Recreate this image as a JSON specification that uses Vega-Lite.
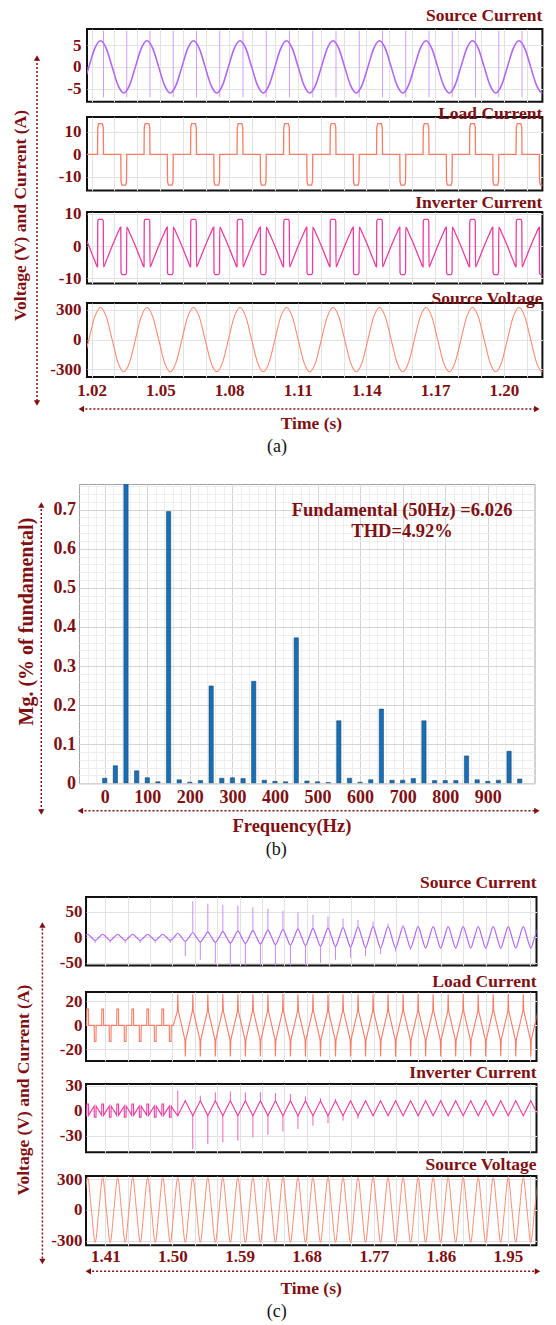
{
"$schema": "https://vega.github.io/schema/vega-lite/v6.json",
"background": "white",
"padding": {"left": 0, "top": 6, "right": 0, "bottom": 0},
"spacing": 0,
"config": {
  "view": {"stroke": "#111111", "strokeWidth": 2},
  "axis": {"labelFont": "Liberation Serif", "labelFontWeight": "bold", "labelColor": "#7f0f12", "labelFontSize": 17, "domain": false, "ticks": false, "gridColor": "#e2e2e2", "gridWidth": 1, "labelFlush": false, "labelOverlap": false},
  "title": {"font": "Liberation Serif", "fontWeight": "bold", "color": "#7f0f12", "fontSize": 17.5, "anchor": "end", "baseline": "bottom"}
},
"datasets": {
"a": [
{"t":1.01629,"v":-230,"i":-4.2},{"t":1.01883,"v":0,"i":0},{"t":1.02136,"v":230,"i":4.2},
{"t":1.0239,"v":325,"i":6},{"t":1.02644,"v":230,"i":4.2},{"t":1.02898,"v":0,"i":0},{"t":1.03151,"v":-230,"i":-4.2},{"t":1.03405,"v":-325,"i":-6},{"t":1.03659,"v":-230,"i":-4.2},{"t":1.03913,"v":0,"i":0},{"t":1.04166,"v":230,"i":4.2},
{"t":1.0442,"v":325,"i":6},{"t":1.04674,"v":230,"i":4.2},{"t":1.04928,"v":0,"i":0},{"t":1.05181,"v":-230,"i":-4.2},{"t":1.05435,"v":-325,"i":-6},{"t":1.05689,"v":-230,"i":-4.2},{"t":1.05943,"v":0,"i":0},{"t":1.06196,"v":230,"i":4.2},
{"t":1.0645,"v":325,"i":6},{"t":1.06704,"v":230,"i":4.2},{"t":1.06958,"v":0,"i":0},{"t":1.07211,"v":-230,"i":-4.2},{"t":1.07465,"v":-325,"i":-6},{"t":1.07719,"v":-230,"i":-4.2},{"t":1.07973,"v":0,"i":0},{"t":1.08226,"v":230,"i":4.2},
{"t":1.0848,"v":325,"i":6},{"t":1.08734,"v":230,"i":4.2},{"t":1.08988,"v":0,"i":0},{"t":1.09241,"v":-230,"i":-4.2},{"t":1.09495,"v":-325,"i":-6},{"t":1.09749,"v":-230,"i":-4.2},{"t":1.10003,"v":0,"i":0},{"t":1.10256,"v":230,"i":4.2},
{"t":1.1051,"v":325,"i":6},{"t":1.10764,"v":230,"i":4.2},{"t":1.11018,"v":0,"i":0},{"t":1.11271,"v":-230,"i":-4.2},{"t":1.11525,"v":-325,"i":-6},{"t":1.11779,"v":-230,"i":-4.2},{"t":1.12033,"v":0,"i":0},{"t":1.12286,"v":230,"i":4.2},
{"t":1.1254,"v":325,"i":6},{"t":1.12794,"v":230,"i":4.2},{"t":1.13048,"v":0,"i":0},{"t":1.13301,"v":-230,"i":-4.2},{"t":1.13555,"v":-325,"i":-6},{"t":1.13809,"v":-230,"i":-4.2},{"t":1.14063,"v":0,"i":0},{"t":1.14316,"v":230,"i":4.2},
{"t":1.1457,"v":325,"i":6},{"t":1.14824,"v":230,"i":4.2},{"t":1.15078,"v":0,"i":0},{"t":1.15331,"v":-230,"i":-4.2},{"t":1.15585,"v":-325,"i":-6},{"t":1.15839,"v":-230,"i":-4.2},{"t":1.16093,"v":0,"i":0},{"t":1.16346,"v":230,"i":4.2},
{"t":1.166,"v":325,"i":6},{"t":1.16854,"v":230,"i":4.2},{"t":1.17108,"v":0,"i":0},{"t":1.17361,"v":-230,"i":-4.2},{"t":1.17615,"v":-325,"i":-6},{"t":1.17869,"v":-230,"i":-4.2},{"t":1.18123,"v":0,"i":0},{"t":1.18376,"v":230,"i":4.2},
{"t":1.1863,"v":325,"i":6},{"t":1.18884,"v":230,"i":4.2},{"t":1.19138,"v":0,"i":0},{"t":1.19391,"v":-230,"i":-4.2},{"t":1.19645,"v":-325,"i":-6},{"t":1.19899,"v":-230,"i":-4.2},{"t":1.20153,"v":0,"i":0},{"t":1.20406,"v":230,"i":4.2},
{"t":1.2066,"v":325,"i":6},{"t":1.20914,"v":230,"i":4.2},{"t":1.21168,"v":0,"i":0},{"t":1.21421,"v":-230,"i":-4.2},{"t":1.21675,"v":-325,"i":-6},{"t":1.21929,"v":-230,"i":-4.2}
],
"aS": [
{"t":1.0252,"i":-7,"i2":8.3},{"t":1.03535,"i":-7,"i2":8.3},{"t":1.0455,"i":-7,"i2":8.3},{"t":1.05565,"i":-7,"i2":8.3},{"t":1.0658,"i":-7,"i2":8.3},{"t":1.07595,"i":-7,"i2":8.3},{"t":1.0861,"i":-7,"i2":8.3},{"t":1.09625,"i":-7,"i2":8.3},{"t":1.1064,"i":-7,"i2":8.3},{"t":1.11655,"i":-7,"i2":8.3},{"t":1.1267,"i":-7,"i2":8.3},{"t":1.13685,"i":-7,"i2":8.3},{"t":1.147,"i":-7,"i2":8.3},{"t":1.15715,"i":-7,"i2":8.3},{"t":1.1673,"i":-7,"i2":8.3},{"t":1.17745,"i":-7,"i2":8.3},{"t":1.1876,"i":-7,"i2":8.3},{"t":1.19775,"i":-7,"i2":8.3},{"t":1.2079,"i":-7,"i2":8.3}
],
"aL": [
{"t":1.017,"l":0},
{"t":1.0226,"l":0},{"t":1.0227,"l":12},{"t":1.0231,"l":13.7},{"t":1.0247,"l":13.7},{"t":1.0251,"l":12},{"t":1.0252,"l":0},
{"t":1.03275,"l":0},{"t":1.03285,"l":-12},{"t":1.03325,"l":-13.7},{"t":1.03485,"l":-13.7},{"t":1.03525,"l":-12},{"t":1.03535,"l":0},
{"t":1.0429,"l":0},{"t":1.043,"l":12},{"t":1.0434,"l":13.7},{"t":1.045,"l":13.7},{"t":1.0454,"l":12},{"t":1.0455,"l":0},
{"t":1.05305,"l":0},{"t":1.05315,"l":-12},{"t":1.05355,"l":-13.7},{"t":1.05515,"l":-13.7},{"t":1.05555,"l":-12},{"t":1.05565,"l":0},
{"t":1.0632,"l":0},{"t":1.0633,"l":12},{"t":1.0637,"l":13.7},{"t":1.0653,"l":13.7},{"t":1.0657,"l":12},{"t":1.0658,"l":0},
{"t":1.07335,"l":0},{"t":1.07345,"l":-12},{"t":1.07385,"l":-13.7},{"t":1.07545,"l":-13.7},{"t":1.07585,"l":-12},{"t":1.07595,"l":0},
{"t":1.0835,"l":0},{"t":1.0836,"l":12},{"t":1.084,"l":13.7},{"t":1.0856,"l":13.7},{"t":1.086,"l":12},{"t":1.0861,"l":0},
{"t":1.09365,"l":0},{"t":1.09375,"l":-12},{"t":1.09415,"l":-13.7},{"t":1.09575,"l":-13.7},{"t":1.09615,"l":-12},{"t":1.09625,"l":0},
{"t":1.1038,"l":0},{"t":1.1039,"l":12},{"t":1.1043,"l":13.7},{"t":1.1059,"l":13.7},{"t":1.1063,"l":12},{"t":1.1064,"l":0},
{"t":1.11395,"l":0},{"t":1.11405,"l":-12},{"t":1.11445,"l":-13.7},{"t":1.11605,"l":-13.7},{"t":1.11645,"l":-12},{"t":1.11655,"l":0},
{"t":1.1241,"l":0},{"t":1.1242,"l":12},{"t":1.1246,"l":13.7},{"t":1.1262,"l":13.7},{"t":1.1266,"l":12},{"t":1.1267,"l":0},
{"t":1.13425,"l":0},{"t":1.13435,"l":-12},{"t":1.13475,"l":-13.7},{"t":1.13635,"l":-13.7},{"t":1.13675,"l":-12},{"t":1.13685,"l":0},
{"t":1.1444,"l":0},{"t":1.1445,"l":12},{"t":1.1449,"l":13.7},{"t":1.1465,"l":13.7},{"t":1.1469,"l":12},{"t":1.147,"l":0},
{"t":1.15455,"l":0},{"t":1.15465,"l":-12},{"t":1.15505,"l":-13.7},{"t":1.15665,"l":-13.7},{"t":1.15705,"l":-12},{"t":1.15715,"l":0},
{"t":1.1647,"l":0},{"t":1.1648,"l":12},{"t":1.1652,"l":13.7},{"t":1.1668,"l":13.7},{"t":1.1672,"l":12},{"t":1.1673,"l":0},
{"t":1.17485,"l":0},{"t":1.17495,"l":-12},{"t":1.17535,"l":-13.7},{"t":1.17695,"l":-13.7},{"t":1.17735,"l":-12},{"t":1.17745,"l":0},
{"t":1.185,"l":0},{"t":1.1851,"l":12},{"t":1.1855,"l":13.7},{"t":1.1871,"l":13.7},{"t":1.1875,"l":12},{"t":1.1876,"l":0},
{"t":1.19515,"l":0},{"t":1.19525,"l":-12},{"t":1.19565,"l":-13.7},{"t":1.19725,"l":-13.7},{"t":1.19765,"l":-12},{"t":1.19775,"l":0},
{"t":1.2053,"l":0},{"t":1.2054,"l":12},{"t":1.2058,"l":13.7},{"t":1.2074,"l":13.7},{"t":1.2078,"l":12},{"t":1.2079,"l":0},
{"t":1.21545,"l":0},{"t":1.21555,"l":-12},{"t":1.21595,"l":-13.7},{"t":1.21755,"l":-13.7},{"t":1.21795,"l":-12},{"t":1.21805,"l":0}
],
"aI": [
{"t":1.01629,"n":4.1},{"t":1.01883,"n":0},{"t":1.02136,"n":-4.5},
{"t":1.0226,"n":-6.4},{"t":1.0227,"n":7.6},{"t":1.0231,"n":8.2},{"t":1.0247,"n":8.2},{"t":1.0251,"n":7.6},{"t":1.0252,"n":-6.4},
{"t":1.02644,"n":-4.5},{"t":1.02898,"n":0},{"t":1.03151,"n":4.1},
{"t":1.03275,"n":5.8},{"t":1.03285,"n":-8.2},{"t":1.03325,"n":-8.8},{"t":1.03485,"n":-8.8},{"t":1.03525,"n":-8.2},{"t":1.03535,"n":5.8},
{"t":1.03659,"n":4.1},{"t":1.03913,"n":0},{"t":1.04166,"n":-4.5},
{"t":1.0429,"n":-6.4},{"t":1.043,"n":7.6},{"t":1.0434,"n":8.2},{"t":1.045,"n":8.2},{"t":1.0454,"n":7.6},{"t":1.0455,"n":-6.4},
{"t":1.04674,"n":-4.5},{"t":1.04928,"n":0},{"t":1.05181,"n":4.1},
{"t":1.05305,"n":5.8},{"t":1.05315,"n":-8.2},{"t":1.05355,"n":-8.8},{"t":1.05515,"n":-8.8},{"t":1.05555,"n":-8.2},{"t":1.05565,"n":5.8},
{"t":1.05689,"n":4.1},{"t":1.05943,"n":0},{"t":1.06196,"n":-4.5},
{"t":1.0632,"n":-6.4},{"t":1.0633,"n":7.6},{"t":1.0637,"n":8.2},{"t":1.0653,"n":8.2},{"t":1.0657,"n":7.6},{"t":1.0658,"n":-6.4},
{"t":1.06704,"n":-4.5},{"t":1.06958,"n":0},{"t":1.07211,"n":4.1},
{"t":1.07335,"n":5.8},{"t":1.07345,"n":-8.2},{"t":1.07385,"n":-8.8},{"t":1.07545,"n":-8.8},{"t":1.07585,"n":-8.2},{"t":1.07595,"n":5.8},
{"t":1.07719,"n":4.1},{"t":1.07973,"n":0},{"t":1.08226,"n":-4.5},
{"t":1.0835,"n":-6.4},{"t":1.0836,"n":7.6},{"t":1.084,"n":8.2},{"t":1.0856,"n":8.2},{"t":1.086,"n":7.6},{"t":1.0861,"n":-6.4},
{"t":1.08734,"n":-4.5},{"t":1.08988,"n":0},{"t":1.09241,"n":4.1},
{"t":1.09365,"n":5.8},{"t":1.09375,"n":-8.2},{"t":1.09415,"n":-8.8},{"t":1.09575,"n":-8.8},{"t":1.09615,"n":-8.2},{"t":1.09625,"n":5.8},
{"t":1.09749,"n":4.1},{"t":1.10003,"n":0},{"t":1.10256,"n":-4.5},
{"t":1.1038,"n":-6.4},{"t":1.1039,"n":7.6},{"t":1.1043,"n":8.2},{"t":1.1059,"n":8.2},{"t":1.1063,"n":7.6},{"t":1.1064,"n":-6.4},
{"t":1.10764,"n":-4.5},{"t":1.11018,"n":0},{"t":1.11271,"n":4.1},
{"t":1.11395,"n":5.8},{"t":1.11405,"n":-8.2},{"t":1.11445,"n":-8.8},{"t":1.11605,"n":-8.8},{"t":1.11645,"n":-8.2},{"t":1.11655,"n":5.8},
{"t":1.11779,"n":4.1},{"t":1.12033,"n":0},{"t":1.12286,"n":-4.5},
{"t":1.1241,"n":-6.4},{"t":1.1242,"n":7.6},{"t":1.1246,"n":8.2},{"t":1.1262,"n":8.2},{"t":1.1266,"n":7.6},{"t":1.1267,"n":-6.4},
{"t":1.12794,"n":-4.5},{"t":1.13048,"n":0},{"t":1.13301,"n":4.1},
{"t":1.13425,"n":5.8},{"t":1.13435,"n":-8.2},{"t":1.13475,"n":-8.8},{"t":1.13635,"n":-8.8},{"t":1.13675,"n":-8.2},{"t":1.13685,"n":5.8},
{"t":1.13809,"n":4.1},{"t":1.14063,"n":0},{"t":1.14316,"n":-4.5},
{"t":1.1444,"n":-6.4},{"t":1.1445,"n":7.6},{"t":1.1449,"n":8.2},{"t":1.1465,"n":8.2},{"t":1.1469,"n":7.6},{"t":1.147,"n":-6.4},
{"t":1.14824,"n":-4.5},{"t":1.15078,"n":0},{"t":1.15331,"n":4.1},
{"t":1.15455,"n":5.8},{"t":1.15465,"n":-8.2},{"t":1.15505,"n":-8.8},{"t":1.15665,"n":-8.8},{"t":1.15705,"n":-8.2},{"t":1.15715,"n":5.8},
{"t":1.15839,"n":4.1},{"t":1.16093,"n":0},{"t":1.16346,"n":-4.5},
{"t":1.1647,"n":-6.4},{"t":1.1648,"n":7.6},{"t":1.1652,"n":8.2},{"t":1.1668,"n":8.2},{"t":1.1672,"n":7.6},{"t":1.1673,"n":-6.4},
{"t":1.16854,"n":-4.5},{"t":1.17108,"n":0},{"t":1.17361,"n":4.1},
{"t":1.17485,"n":5.8},{"t":1.17495,"n":-8.2},{"t":1.17535,"n":-8.8},{"t":1.17695,"n":-8.8},{"t":1.17735,"n":-8.2},{"t":1.17745,"n":5.8},
{"t":1.17869,"n":4.1},{"t":1.18123,"n":0},{"t":1.18376,"n":-4.5},
{"t":1.185,"n":-6.4},{"t":1.1851,"n":7.6},{"t":1.1855,"n":8.2},{"t":1.1871,"n":8.2},{"t":1.1875,"n":7.6},{"t":1.1876,"n":-6.4},
{"t":1.18884,"n":-4.5},{"t":1.19138,"n":0},{"t":1.19391,"n":4.1},
{"t":1.19515,"n":5.8},{"t":1.19525,"n":-8.2},{"t":1.19565,"n":-8.8},{"t":1.19725,"n":-8.8},{"t":1.19765,"n":-8.2},{"t":1.19775,"n":5.8},
{"t":1.19899,"n":4.1},{"t":1.20153,"n":0},{"t":1.20406,"n":-4.5},
{"t":1.2053,"n":-6.4},{"t":1.2054,"n":7.6},{"t":1.2058,"n":8.2},{"t":1.2074,"n":8.2},{"t":1.2078,"n":7.6},{"t":1.2079,"n":-6.4},
{"t":1.20914,"n":-4.5},{"t":1.21168,"n":0},{"t":1.21421,"n":4.1},
{"t":1.21545,"n":5.8},{"t":1.21555,"n":-8.2},{"t":1.21595,"n":-8.8},{"t":1.21755,"n":-8.8},{"t":1.21795,"n":-8.2},{"t":1.21805,"n":5.8}
],
"b": [
{"f":0,"m":0.013},{"f":25,"m":0.045},{"f":50,"m":0.77},{"f":75,"m":0.032},{"f":100,"m":0.0145},{"f":125,"m":0.004},{"f":150,"m":0.695},{"f":175,"m":0.009},{"f":200,"m":0.003},{"f":225,"m":0.007},
{"f":250,"m":0.249},{"f":275,"m":0.013},{"f":300,"m":0.014},{"f":325,"m":0.012},{"f":350,"m":0.261},{"f":375,"m":0.008},{"f":400,"m":0.005},{"f":425,"m":0.004},{"f":450,"m":0.372},{"f":475,"m":0.006},
{"f":500,"m":0.004},{"f":525,"m":0.002},{"f":550,"m":0.16},{"f":575,"m":0.013},{"f":600,"m":0.003},{"f":625,"m":0.009},{"f":650,"m":0.19},{"f":675,"m":0.008},{"f":700,"m":0.008},{"f":725,"m":0.012},
{"f":750,"m":0.16},{"f":775,"m":0.007},{"f":800,"m":0.007},{"f":825,"m":0.007},{"f":850,"m":0.07},{"f":875,"m":0.009},{"f":900,"m":0.005},{"f":925,"m":0.008},{"f":950,"m":0.082},{"f":975,"m":0.011}
],
"c": [
{"t":1.38116,"v":0,"i":0},
{"t":1.3862,"v":315,"i":6},{"t":1.39124,"v":0,"i":0},{"t":1.39628,"v":-315,"i":-6},{"t":1.40131,"v":0,"i":0},
{"t":1.40635,"v":315,"i":6},{"t":1.41139,"v":0,"i":0},{"t":1.41643,"v":-315,"i":-6},{"t":1.42146,"v":0,"i":0},
{"t":1.4265,"v":315,"i":6},{"t":1.43154,"v":0,"i":0},{"t":1.43658,"v":-315,"i":-6},{"t":1.44161,"v":0,"i":0},
{"t":1.44665,"v":315,"i":6},{"t":1.45169,"v":0,"i":0},{"t":1.45673,"v":-315,"i":-6},{"t":1.46176,"v":0,"i":0},
{"t":1.4668,"v":315,"i":6},{"t":1.47184,"v":0,"i":0},{"t":1.47688,"v":-315,"i":-6},{"t":1.48191,"v":0,"i":0},
{"t":1.48695,"v":315,"i":6},{"t":1.49199,"v":0,"i":0},{"t":1.49703,"v":-315,"i":-6},{"t":1.50206,"v":0,"i":0},
{"t":1.5071,"v":315,"i":8},{"t":1.51214,"v":0,"i":0},{"t":1.51718,"v":-315,"i":-8},{"t":1.52221,"v":0,"i":0},
{"t":1.52725,"v":315,"i":9},{"t":1.53229,"v":0,"i":0},{"t":1.53733,"v":-315,"i":-9},{"t":1.54236,"v":0,"i":0},
{"t":1.5474,"v":315,"i":10},{"t":1.55244,"v":0,"i":0},{"t":1.55748,"v":-315,"i":-10},{"t":1.56251,"v":0,"i":0},
{"t":1.56755,"v":315,"i":11},{"t":1.57259,"v":0,"i":0},{"t":1.57763,"v":-315,"i":-11},{"t":1.58266,"v":0,"i":0},
{"t":1.5877,"v":315,"i":12},{"t":1.59274,"v":0,"i":0},{"t":1.59778,"v":-315,"i":-12},{"t":1.60281,"v":0,"i":0},
{"t":1.60785,"v":315,"i":13},{"t":1.61289,"v":0,"i":0},{"t":1.61793,"v":-315,"i":-13},{"t":1.62296,"v":0,"i":0},
{"t":1.628,"v":315,"i":14},{"t":1.63304,"v":0,"i":0},{"t":1.63808,"v":-315,"i":-14},{"t":1.64311,"v":0,"i":0},
{"t":1.64815,"v":315,"i":15},{"t":1.65319,"v":0,"i":0},{"t":1.65823,"v":-315,"i":-15},{"t":1.66326,"v":0,"i":0},
{"t":1.6683,"v":315,"i":16},{"t":1.67334,"v":0,"i":0},{"t":1.67838,"v":-315,"i":-16},{"t":1.68341,"v":0,"i":0},
{"t":1.68845,"v":315,"i":17},{"t":1.69349,"v":0,"i":0},{"t":1.69853,"v":-315,"i":-17},{"t":1.70356,"v":0,"i":0},
{"t":1.7086,"v":315,"i":18},{"t":1.71364,"v":0,"i":0},{"t":1.71868,"v":-315,"i":-18},{"t":1.72371,"v":0,"i":0},
{"t":1.72875,"v":315,"i":19},{"t":1.73379,"v":0,"i":0},{"t":1.73883,"v":-315,"i":-19},{"t":1.74386,"v":0,"i":0},
{"t":1.7489,"v":315,"i":20},{"t":1.75394,"v":0,"i":0},{"t":1.75898,"v":-315,"i":-20},{"t":1.76401,"v":0,"i":0},
{"t":1.76905,"v":315,"i":21},{"t":1.77409,"v":0,"i":0},{"t":1.77913,"v":-315,"i":-21},{"t":1.78416,"v":0,"i":0},
{"t":1.7892,"v":315,"i":21},{"t":1.79424,"v":0,"i":0},{"t":1.79928,"v":-315,"i":-21},{"t":1.80431,"v":0,"i":0},
{"t":1.80935,"v":315,"i":21},{"t":1.81439,"v":0,"i":0},{"t":1.81943,"v":-315,"i":-21},{"t":1.82446,"v":0,"i":0},
{"t":1.8295,"v":315,"i":21},{"t":1.83454,"v":0,"i":0},{"t":1.83958,"v":-315,"i":-21},{"t":1.84461,"v":0,"i":0},
{"t":1.84965,"v":315,"i":21},{"t":1.85469,"v":0,"i":0},{"t":1.85973,"v":-315,"i":-21},{"t":1.86476,"v":0,"i":0},
{"t":1.8698,"v":315,"i":21},{"t":1.87484,"v":0,"i":0},{"t":1.87988,"v":-315,"i":-21},{"t":1.88491,"v":0,"i":0},
{"t":1.88995,"v":315,"i":21},{"t":1.89499,"v":0,"i":0},{"t":1.90003,"v":-315,"i":-21},{"t":1.90506,"v":0,"i":0},
{"t":1.9101,"v":315,"i":21},{"t":1.91514,"v":0,"i":0},{"t":1.92018,"v":-315,"i":-21},{"t":1.92521,"v":0,"i":0},
{"t":1.93025,"v":315,"i":21},{"t":1.93529,"v":0,"i":0},{"t":1.94033,"v":-315,"i":-21},{"t":1.94536,"v":0,"i":0},
{"t":1.9504,"v":315,"i":21},{"t":1.95544,"v":0,"i":0},{"t":1.96048,"v":-315,"i":-21},{"t":1.96551,"v":0,"i":0},
{"t":1.97055,"v":315,"i":21},{"t":1.97559,"v":0,"i":0},{"t":1.98063,"v":-315,"i":-21},{"t":1.98566,"v":0,"i":0},
{"t":1.9907,"v":315,"i":21}
],
"cS": [
{"t":1.39628,"i":-11,"i2":-6},{"t":1.41643,"i":-11,"i2":-6},{"t":1.43658,"i":-11,"i2":-6},{"t":1.45673,"i":-11,"i2":-6},{"t":1.47688,"i":-11,"i2":-6},{"t":1.49703,"i":-11,"i2":-6},
{"t":1.52725,"i":9,"i2":70.6},{"t":1.5474,"i":10,"i2":66},{"t":1.56755,"i":11,"i2":64},{"t":1.5877,"i":12,"i2":62},{"t":1.60785,"i":13,"i2":59},{"t":1.628,"i":14,"i2":56},{"t":1.64815,"i":15,"i2":52},{"t":1.6683,"i":16,"i2":49},{"t":1.68845,"i":17,"i2":44},{"t":1.7086,"i":18,"i2":40.5},{"t":1.72875,"i":19,"i2":37},{"t":1.7489,"i":20,"i2":34},{"t":1.76905,"i":21,"i2":31},{"t":1.7892,"i":21,"i2":27},{"t":1.80935,"i":21,"i2":24},
{"t":1.51718,"i":-37,"i2":-8},{"t":1.53733,"i":-44,"i2":-9},{"t":1.55748,"i":-51,"i2":-10},{"t":1.57763,"i":-60,"i2":-11},{"t":1.59778,"i":-60,"i2":-12},{"t":1.61793,"i":-60,"i2":-13},{"t":1.63808,"i":-60,"i2":-14},{"t":1.65823,"i":-60,"i2":-15},{"t":1.67838,"i":-58,"i2":-16},{"t":1.69853,"i":-50,"i2":-17},{"t":1.71868,"i":-44,"i2":-18},{"t":1.73883,"i":-40,"i2":-19},{"t":1.75898,"i":-37,"i2":-20},{"t":1.77913,"i":-33,"i2":-21},{"t":1.79928,"i":-28,"i2":-21},{"t":1.81943,"i":-25,"i2":-21}
],
"cL": [
{"t":1.383,"l":0},
{"t":1.3849,"l":0},{"t":1.3851,"l":13.5},{"t":1.3873,"l":13.5},{"t":1.3875,"l":0},
{"t":1.39498,"l":0},{"t":1.39518,"l":-13.5},{"t":1.39738,"l":-13.5},{"t":1.39758,"l":0},
{"t":1.40505,"l":0},{"t":1.40525,"l":13.5},{"t":1.40745,"l":13.5},{"t":1.40765,"l":0},
{"t":1.41513,"l":0},{"t":1.41533,"l":-13.5},{"t":1.41753,"l":-13.5},{"t":1.41773,"l":0},
{"t":1.4252,"l":0},{"t":1.4254,"l":13.5},{"t":1.4276,"l":13.5},{"t":1.4278,"l":0},
{"t":1.43528,"l":0},{"t":1.43548,"l":-13.5},{"t":1.43768,"l":-13.5},{"t":1.43788,"l":0},
{"t":1.44535,"l":0},{"t":1.44555,"l":13.5},{"t":1.44775,"l":13.5},{"t":1.44795,"l":0},
{"t":1.45543,"l":0},{"t":1.45563,"l":-13.5},{"t":1.45783,"l":-13.5},{"t":1.45803,"l":0},
{"t":1.4655,"l":0},{"t":1.4657,"l":13.5},{"t":1.4679,"l":13.5},{"t":1.4681,"l":0},
{"t":1.47558,"l":0},{"t":1.47578,"l":-13.5},{"t":1.47798,"l":-13.5},{"t":1.47818,"l":0},
{"t":1.48565,"l":0},{"t":1.48585,"l":13.5},{"t":1.48805,"l":13.5},{"t":1.48825,"l":0},
{"t":1.49573,"l":0},{"t":1.49593,"l":-13.5},{"t":1.49813,"l":-13.5},{"t":1.49833,"l":0},
{"t":1.5011,"l":0},
{"t":1.5066,"l":12},{"t":1.5071,"l":26},{"t":1.5078,"l":12},{"t":1.51668,"l":-12},{"t":1.51718,"l":-26},{"t":1.51788,"l":-12},
{"t":1.52675,"l":12},{"t":1.52725,"l":26},{"t":1.52795,"l":12},{"t":1.53683,"l":-12},{"t":1.53733,"l":-26},{"t":1.53803,"l":-12},
{"t":1.5469,"l":12},{"t":1.5474,"l":26},{"t":1.5481,"l":12},{"t":1.55698,"l":-12},{"t":1.55748,"l":-26},{"t":1.55818,"l":-12},
{"t":1.56705,"l":12},{"t":1.56755,"l":26},{"t":1.56825,"l":12},{"t":1.57713,"l":-12},{"t":1.57763,"l":-26},{"t":1.57833,"l":-12},
{"t":1.5872,"l":12},{"t":1.5877,"l":26},{"t":1.5884,"l":12},{"t":1.59728,"l":-12},{"t":1.59778,"l":-26},{"t":1.59848,"l":-12},
{"t":1.60735,"l":12},{"t":1.60785,"l":26},{"t":1.60855,"l":12},{"t":1.61743,"l":-12},{"t":1.61793,"l":-26},{"t":1.61863,"l":-12},
{"t":1.6275,"l":12},{"t":1.628,"l":26},{"t":1.6287,"l":12},{"t":1.63758,"l":-12},{"t":1.63808,"l":-26},{"t":1.63878,"l":-12},
{"t":1.64765,"l":12},{"t":1.64815,"l":26},{"t":1.64885,"l":12},{"t":1.65773,"l":-12},{"t":1.65823,"l":-26},{"t":1.65893,"l":-12},
{"t":1.6678,"l":12},{"t":1.6683,"l":26},{"t":1.669,"l":12},{"t":1.67788,"l":-12},{"t":1.67838,"l":-26},{"t":1.67908,"l":-12},
{"t":1.68795,"l":12},{"t":1.68845,"l":26},{"t":1.68915,"l":12},{"t":1.69803,"l":-12},{"t":1.69853,"l":-26},{"t":1.69923,"l":-12},
{"t":1.7081,"l":12},{"t":1.7086,"l":26},{"t":1.7093,"l":12},{"t":1.71818,"l":-12},{"t":1.71868,"l":-26},{"t":1.71938,"l":-12},
{"t":1.72825,"l":12},{"t":1.72875,"l":26},{"t":1.72945,"l":12},{"t":1.73833,"l":-12},{"t":1.73883,"l":-26},{"t":1.73953,"l":-12},
{"t":1.7484,"l":12},{"t":1.7489,"l":26},{"t":1.7496,"l":12},{"t":1.75848,"l":-12},{"t":1.75898,"l":-26},{"t":1.75968,"l":-12},
{"t":1.76855,"l":12},{"t":1.76905,"l":26},{"t":1.76975,"l":12},{"t":1.77863,"l":-12},{"t":1.77913,"l":-26},{"t":1.77983,"l":-12},
{"t":1.7887,"l":12},{"t":1.7892,"l":26},{"t":1.7899,"l":12},{"t":1.79878,"l":-12},{"t":1.79928,"l":-26},{"t":1.79998,"l":-12},
{"t":1.80885,"l":12},{"t":1.80935,"l":26},{"t":1.81005,"l":12},{"t":1.81893,"l":-12},{"t":1.81943,"l":-26},{"t":1.82013,"l":-12},
{"t":1.829,"l":12},{"t":1.8295,"l":26},{"t":1.8302,"l":12},{"t":1.83908,"l":-12},{"t":1.83958,"l":-26},{"t":1.84028,"l":-12},
{"t":1.84915,"l":12},{"t":1.84965,"l":26},{"t":1.85035,"l":12},{"t":1.85923,"l":-12},{"t":1.85973,"l":-26},{"t":1.86043,"l":-12},
{"t":1.8693,"l":12},{"t":1.8698,"l":26},{"t":1.8705,"l":12},{"t":1.87938,"l":-12},{"t":1.87988,"l":-26},{"t":1.88058,"l":-12},
{"t":1.88945,"l":12},{"t":1.88995,"l":26},{"t":1.89065,"l":12},{"t":1.89953,"l":-12},{"t":1.90003,"l":-26},{"t":1.90073,"l":-12},
{"t":1.9096,"l":12},{"t":1.9101,"l":26},{"t":1.9108,"l":12},{"t":1.91968,"l":-12},{"t":1.92018,"l":-26},{"t":1.92088,"l":-12},
{"t":1.92975,"l":12},{"t":1.93025,"l":26},{"t":1.93095,"l":12},{"t":1.93983,"l":-12},{"t":1.94033,"l":-26},{"t":1.94103,"l":-12},
{"t":1.9499,"l":12},{"t":1.9504,"l":26},{"t":1.9511,"l":12},{"t":1.95998,"l":-12},{"t":1.96048,"l":-26},{"t":1.96118,"l":-12},
{"t":1.97005,"l":12},{"t":1.97055,"l":26},{"t":1.97125,"l":12},{"t":1.98013,"l":-12},{"t":1.98063,"l":-26},{"t":1.98133,"l":-12},
{"t":1.9902,"l":12}
],
"cI": [
{"t":1.38116,"n":0},
{"t":1.3849,"n":-5.5},{"t":1.3851,"n":8},{"t":1.3873,"n":8},{"t":1.3875,"n":-5.5},{"t":1.39124,"n":0},{"t":1.39498,"n":5.5},{"t":1.39518,"n":-8},{"t":1.39738,"n":-8},{"t":1.39758,"n":5.5},{"t":1.40131,"n":0},
{"t":1.40505,"n":-5.5},{"t":1.40525,"n":8},{"t":1.40745,"n":8},{"t":1.40765,"n":-5.5},{"t":1.41139,"n":0},{"t":1.41513,"n":5.5},{"t":1.41533,"n":-8},{"t":1.41753,"n":-8},{"t":1.41773,"n":5.5},{"t":1.42146,"n":0},
{"t":1.4252,"n":-5.5},{"t":1.4254,"n":8},{"t":1.4276,"n":8},{"t":1.4278,"n":-5.5},{"t":1.43154,"n":0},{"t":1.43528,"n":5.5},{"t":1.43548,"n":-8},{"t":1.43768,"n":-8},{"t":1.43788,"n":5.5},{"t":1.44161,"n":0},
{"t":1.44535,"n":-5.5},{"t":1.44555,"n":8},{"t":1.44775,"n":8},{"t":1.44795,"n":-5.5},{"t":1.45169,"n":0},{"t":1.45543,"n":5.5},{"t":1.45563,"n":-8},{"t":1.45783,"n":-8},{"t":1.45803,"n":5.5},{"t":1.46176,"n":0},
{"t":1.4655,"n":-5.5},{"t":1.4657,"n":8},{"t":1.4679,"n":8},{"t":1.4681,"n":-5.5},{"t":1.47184,"n":0},{"t":1.47558,"n":5.5},{"t":1.47578,"n":-8},{"t":1.47798,"n":-8},{"t":1.47818,"n":5.5},{"t":1.48191,"n":0},
{"t":1.48565,"n":-5.5},{"t":1.48585,"n":8},{"t":1.48805,"n":8},{"t":1.48825,"n":-5.5},{"t":1.49199,"n":0},{"t":1.49573,"n":5.5},{"t":1.49593,"n":-8},{"t":1.49813,"n":-8},{"t":1.49833,"n":5.5},{"t":1.50206,"n":0},
{"t":1.5071,"n":-6},{"t":1.51214,"n":3},{"t":1.51718,"n":12},{"t":1.52221,"n":3},
{"t":1.52725,"n":-6},{"t":1.53229,"n":3},{"t":1.53733,"n":12},{"t":1.54236,"n":3},
{"t":1.5474,"n":-6},{"t":1.55244,"n":3},{"t":1.55748,"n":12},{"t":1.56251,"n":3},
{"t":1.56755,"n":-6},{"t":1.57259,"n":3},{"t":1.57763,"n":12},{"t":1.58266,"n":3},
{"t":1.5877,"n":-6},{"t":1.59274,"n":3},{"t":1.59778,"n":12},{"t":1.60281,"n":3},
{"t":1.60785,"n":-6},{"t":1.61289,"n":3},{"t":1.61793,"n":12},{"t":1.62296,"n":3},
{"t":1.628,"n":-6},{"t":1.63304,"n":3},{"t":1.63808,"n":12},{"t":1.64311,"n":3},
{"t":1.64815,"n":-6},{"t":1.65319,"n":3},{"t":1.65823,"n":12},{"t":1.66326,"n":3},
{"t":1.6683,"n":-6},{"t":1.67334,"n":3},{"t":1.67838,"n":12},{"t":1.68341,"n":3},
{"t":1.68845,"n":-6},{"t":1.69349,"n":3},{"t":1.69853,"n":12},{"t":1.70356,"n":3},
{"t":1.7086,"n":-6},{"t":1.71364,"n":3},{"t":1.71868,"n":12},{"t":1.72371,"n":3},
{"t":1.72875,"n":-6},{"t":1.73379,"n":3},{"t":1.73883,"n":12},{"t":1.74386,"n":3},
{"t":1.7489,"n":-6},{"t":1.75394,"n":3},{"t":1.75898,"n":12},{"t":1.76401,"n":3},
{"t":1.76905,"n":-6},{"t":1.77409,"n":3},{"t":1.77913,"n":12},{"t":1.78416,"n":3},
{"t":1.7892,"n":-6},{"t":1.79424,"n":3},{"t":1.79928,"n":12},{"t":1.80431,"n":3},
{"t":1.80935,"n":-6},{"t":1.81439,"n":3},{"t":1.81943,"n":12},{"t":1.82446,"n":3},
{"t":1.8295,"n":-6},{"t":1.83454,"n":3},{"t":1.83958,"n":12},{"t":1.84461,"n":3},
{"t":1.84965,"n":-6},{"t":1.85469,"n":3},{"t":1.85973,"n":12},{"t":1.86476,"n":3},
{"t":1.8698,"n":-6},{"t":1.87484,"n":3},{"t":1.87988,"n":12},{"t":1.88491,"n":3},
{"t":1.88995,"n":-6},{"t":1.89499,"n":3},{"t":1.90003,"n":12},{"t":1.90506,"n":3},
{"t":1.9101,"n":-6},{"t":1.91514,"n":3},{"t":1.92018,"n":12},{"t":1.92521,"n":3},
{"t":1.93025,"n":-6},{"t":1.93529,"n":3},{"t":1.94033,"n":12},{"t":1.94536,"n":3},
{"t":1.9504,"n":-6},{"t":1.95544,"n":3},{"t":1.96048,"n":12},{"t":1.96551,"n":3},
{"t":1.97055,"n":-6},{"t":1.97559,"n":3},{"t":1.98063,"n":12},{"t":1.98566,"n":3},
{"t":1.9907,"n":-6}
],
"cIS": [
{"t":1.5071,"n":-6,"n2":24},
{"t":1.53733,"n":12,"n2":18},{"t":1.55748,"n":12,"n2":22},{"t":1.57763,"n":12,"n2":23},{"t":1.59778,"n":12,"n2":22},{"t":1.61793,"n":12,"n2":22},{"t":1.63808,"n":12,"n2":21},{"t":1.65823,"n":12,"n2":20},{"t":1.67838,"n":12,"n2":17},{"t":1.69853,"n":12,"n2":15},{"t":1.71868,"n":12,"n2":14},
{"t":1.52725,"n":-46,"n2":-6},{"t":1.5474,"n":-40,"n2":-6},{"t":1.56755,"n":-38,"n2":-6},{"t":1.5877,"n":-36,"n2":-6},{"t":1.60785,"n":-32,"n2":-6},{"t":1.628,"n":-29,"n2":-6},{"t":1.64815,"n":-25,"n2":-6},{"t":1.6683,"n":-22,"n2":-6},{"t":1.68845,"n":-18,"n2":-6},{"t":1.7086,"n":-15,"n2":-6},{"t":1.72875,"n":-12,"n2":-6},{"t":1.7489,"n":-10,"n2":-6}
]
},
"vconcat": [
{
 "spacing": 0,
 "hconcat": [
  {
   "width": 47, "height": 450,
   "view": {"stroke": null},
   "data": {"values": [{}]},
   "layer": [
    {"mark": {"type": "text", "angle": 270, "font": "Liberation Serif", "fontSize": 17.5, "fontWeight": "bold", "color": "#7f0f12", "align": "center", "baseline": "middle"},
     "encoding": {"x": {"datum": 21, "type": "quantitative", "scale": {"domain": [0, 47], "nice": false, "zero": false}, "axis": null}, "y": {"datum": 192.5, "type": "quantitative", "scale": {"domain": [6, 456], "reverse": true, "nice": false, "zero": false}, "axis": null}, "text": {"value": "Voltage (V) and Current (A)"}}},
    {"mark": {"type": "rule", "color": "#7f0f12", "strokeDash": [2, 2], "strokeWidth": 1.5},
     "encoding": {"x": {"datum": 37, "type": "quantitative", "scale": {"domain": [0, 47], "nice": false, "zero": false}, "axis": null}, "y": {"datum": 36, "type": "quantitative", "scale": {"domain": [6, 456], "reverse": true, "nice": false, "zero": false}, "axis": null}, "y2": {"datum": 379}}},
    {"mark": {"type": "point", "shape": "triangle-up", "filled": true, "color": "#7f0f12", "opacity": 1, "size": 40},
     "encoding": {"x": {"datum": 37, "type": "quantitative", "scale": {"domain": [0, 47], "nice": false, "zero": false}, "axis": null}, "y": {"datum": 35, "type": "quantitative", "scale": {"domain": [6, 456], "reverse": true, "nice": false, "zero": false}, "axis": null}}},
    {"mark": {"type": "point", "shape": "triangle-down", "filled": true, "color": "#7f0f12", "opacity": 1, "size": 40},
     "encoding": {"x": {"datum": 37, "type": "quantitative", "scale": {"domain": [0, 47], "nice": false, "zero": false}, "axis": null}, "y": {"datum": 380, "type": "quantitative", "scale": {"domain": [6, 456], "reverse": true, "nice": false, "zero": false}, "axis": null}}}
   ]
  },
  {
   "spacing": 0,
   "vconcat": [
    {
     "width": 455.4, "height": 72.7,
     "title": {"text": "Source Current", "offset": 4.4},
     "encoding": {
      "x": {"field": "t", "type": "quantitative", "scale": {"domain": [1.018, 1.2168], "nice": false, "zero": false}, "axis": {"values": [1.02,1.03,1.04,1.05,1.06,1.07,1.08,1.09,1.1,1.11,1.12,1.13,1.14,1.15,1.16,1.17,1.18,1.19,1.2,1.21], "labels": false, "grid": true, "title": null, "minExtent": 0, "maxExtent": 0}},
      "y": {"field": "i", "type": "quantitative", "scale": {"domain": [-8, 8.7], "nice": false, "zero": false}, "axis": {"values": [-5, 0, 5], "grid": true, "title": null, "labelPadding": 6, "minExtent": 38.4, "maxExtent": 38.4, "labelExpr": "datum.value + ''"}}
     },
     "layer": [
      {"data": {"name": "aS"}, "mark": {"type": "rule", "color": "#cf9efb", "strokeWidth": 1, "clip": true}, "encoding": {"y2": {"field": "i2"}}},
      {"data": {"name": "a"}, "mark": {"type": "line", "color": "#b366f5", "strokeWidth": 1.6, "interpolate": "monotone", "clip": true}}
     ]
    },
    {
     "width": 455.4, "height": 73.4,
     "title": {"text": "Load Current", "offset": -5},
     "data": {"name": "aL"},
     "mark": {"type": "line", "color": "#fa7b66", "strokeWidth": 1.3, "clip": true},
     "encoding": {
      "x": {"field": "t", "type": "quantitative", "scale": {"domain": [1.018, 1.2168], "nice": false, "zero": false}, "axis": {"values": [1.02,1.03,1.04,1.05,1.06,1.07,1.08,1.09,1.1,1.11,1.12,1.13,1.14,1.15,1.16,1.17,1.18,1.19,1.2,1.21], "labels": false, "grid": true, "title": null, "minExtent": 0, "maxExtent": 0}},
      "y": {"field": "l", "type": "quantitative", "scale": {"domain": [-16, 16.6], "nice": false, "zero": false}, "axis": {"values": [-10, 0, 10], "grid": true, "title": null, "labelPadding": 6, "minExtent": 38.4, "maxExtent": 38.4, "labelExpr": "datum.value + ''"}}
     }
    },
    {
     "width": 455.4, "height": 71.6,
     "title": {"text": "Inverter Current", "offset": -6.5},
     "data": {"name": "aI"},
     "mark": {"type": "line", "color": "#ee3b9f", "strokeWidth": 1.3, "interpolate": "monotone", "clip": true},
     "encoding": {
      "x": {"field": "t", "type": "quantitative", "scale": {"domain": [1.018, 1.2168], "nice": false, "zero": false}, "axis": {"values": [1.02,1.03,1.04,1.05,1.06,1.07,1.08,1.09,1.1,1.11,1.12,1.13,1.14,1.15,1.16,1.17,1.18,1.19,1.2,1.21], "labels": false, "grid": true, "title": null, "minExtent": 0, "maxExtent": 0}},
      "y": {"field": "n", "type": "quantitative", "scale": {"domain": [-11.6, 10.5], "nice": false, "zero": false}, "axis": {"values": [-10, 0, 10], "grid": true, "title": null, "labelPadding": 6, "minExtent": 38.4, "maxExtent": 38.4, "labelExpr": "datum.value + ''"}}
     }
    },
    {
     "width": 455.4, "height": 74,
     "title": {"text": "Source Voltage", "offset": -6.3},
     "data": {"name": "a"},
     "mark": {"type": "line", "color": "#fb8a70", "strokeWidth": 1.1, "interpolate": "monotone", "clip": true},
     "encoding": {
      "x": {"field": "t", "type": "quantitative", "scale": {"domain": [1.018, 1.2168], "nice": false, "zero": false}, "axis": {"values": [1.02,1.03,1.04,1.05,1.06,1.07,1.08,1.09,1.1,1.11,1.12,1.13,1.14,1.15,1.16,1.17,1.18,1.19,1.2,1.21], "grid": true, "title": null, "labelPadding": 5, "labelAlign": "center", "labelFlush": false, "labelExpr": "(round(datum.value*100) - 102) % 3 == 0 ? format(datum.value, '.2f') : ''"}},
      "y": {"field": "v", "type": "quantitative", "scale": {"domain": [-378, 370], "nice": false, "zero": false}, "axis": {"values": [-300, 0, 300], "grid": true, "title": null, "labelPadding": 6, "minExtent": 38.4, "maxExtent": 38.4, "labelExpr": "datum.value + ''"}}
     }
    },
    {
     "width": 469.4, "height": 67.2,
     "view": {"stroke": null},
     "data": {"values": [{}]},
     "layer": [
      {"mark": {"type": "rule", "color": "#7f0f12", "strokeDash": [2, 2], "strokeWidth": 1.5},
       "encoding": {"x": {"datum": 81, "type": "quantitative", "scale": {"domain": [86.6, 556], "nice": false, "zero": false}, "axis": null}, "x2": {"datum": 536.5}, "y": {"datum": 10, "type": "quantitative", "scale": {"domain": [0, 67.2], "reverse": true, "nice": false, "zero": false}, "axis": null}}},
      {"mark": {"type": "point", "shape": "triangle-left", "filled": true, "color": "#7f0f12", "opacity": 1, "size": 40},
       "encoding": {"x": {"datum": 80.9, "type": "quantitative", "scale": {"domain": [86.6, 556], "nice": false, "zero": false}, "axis": null}, "y": {"datum": 10, "type": "quantitative", "scale": {"domain": [0, 67.2], "reverse": true, "nice": false, "zero": false}, "axis": null}}},
      {"mark": {"type": "point", "shape": "triangle-right", "filled": true, "color": "#7f0f12", "opacity": 1, "size": 40},
       "encoding": {"x": {"datum": 536.4, "type": "quantitative", "scale": {"domain": [86.6, 556], "nice": false, "zero": false}, "axis": null}, "y": {"datum": 10, "type": "quantitative", "scale": {"domain": [0, 67.2], "reverse": true, "nice": false, "zero": false}, "axis": null}}},
      {"mark": {"type": "text", "font": "Liberation Serif", "fontSize": 17.5, "fontWeight": "bold", "color": "#7f0f12", "align": "center", "baseline": "middle"},
       "encoding": {"x": {"datum": 311, "type": "quantitative", "scale": {"domain": [86.6, 556], "nice": false, "zero": false}, "axis": null}, "y": {"datum": 25, "type": "quantitative", "scale": {"domain": [0, 67.2], "reverse": true, "nice": false, "zero": false}, "axis": null}, "text": {"value": "Time (s)"}}},
      {"mark": {"type": "text", "font": "Liberation Serif", "fontSize": 18, "color": "#111111", "align": "center", "baseline": "middle"},
       "encoding": {"x": {"datum": 276.7, "type": "quantitative", "scale": {"domain": [86.6, 556], "nice": false, "zero": false}, "axis": null}, "y": {"datum": 48.3, "type": "quantitative", "scale": {"domain": [0, 67.2], "reverse": true, "nice": false, "zero": false}, "axis": null}, "text": {"value": "(a)"}}}
     ]
    }
   ]
  }
 ]
},
{
 "spacing": 0,
 "hconcat": [
  {
   "width": 47, "height": 385,
   "view": {"stroke": null},
   "data": {"values": [{}]},
   "layer": [
    {"mark": {"type": "text", "angle": 270, "font": "Liberation Serif", "fontSize": 20, "fontWeight": "bold", "color": "#7f0f12", "align": "center", "baseline": "middle"},
     "encoding": {"x": {"datum": 27, "type": "quantitative", "scale": {"domain": [0, 47], "nice": false, "zero": false}, "axis": null}, "y": {"datum": 606.5, "type": "quantitative", "scale": {"domain": [468.9, 853.9], "reverse": true, "nice": false, "zero": false}, "axis": null}, "text": {"value": "Mg. (% of fundamental)"}}},
    {"mark": {"type": "rule", "color": "#7f0f12", "strokeDash": [2, 2], "strokeWidth": 1.5},
     "encoding": {"x": {"datum": 41.3, "type": "quantitative", "scale": {"domain": [0, 47], "nice": false, "zero": false}, "axis": null}, "y": {"datum": 490, "type": "quantitative", "scale": {"domain": [468.9, 853.9], "reverse": true, "nice": false, "zero": false}, "axis": null}, "y2": {"datum": 797}}},
    {"mark": {"type": "point", "shape": "triangle-up", "filled": true, "color": "#7f0f12", "opacity": 1, "size": 40},
     "encoding": {"x": {"datum": 41.3, "type": "quantitative", "scale": {"domain": [0, 47], "nice": false, "zero": false}, "axis": null}, "y": {"datum": 490, "type": "quantitative", "scale": {"domain": [468.9, 853.9], "reverse": true, "nice": false, "zero": false}, "axis": null}}},
    {"mark": {"type": "point", "shape": "triangle-down", "filled": true, "color": "#7f0f12", "opacity": 1, "size": 40},
     "encoding": {"x": {"datum": 41.3, "type": "quantitative", "scale": {"domain": [0, 47], "nice": false, "zero": false}, "axis": null}, "y": {"datum": 797, "type": "quantitative", "scale": {"domain": [468.9, 853.9], "reverse": true, "nice": false, "zero": false}, "axis": null}}}
   ]
  },
  {
   "spacing": 0,
   "vconcat": [
    {
     "width": 455.5, "height": 299.3,
     "view": {"stroke": "#a3a3a3", "strokeWidth": 1},
     "data": {"name": "b"},
     "resolve": {"axis": {"x": "independent", "y": "independent"}},
     "layer": [
      {"mark": {"type": "point", "opacity": 0},
       "encoding": {
        "x": {"field": "f", "type": "quantitative", "scale": {"domain": [-48.7, 998], "nice": false, "zero": false}, "axis": {"orient": "top", "values": [-40,-20,20,40,60,80,120,140,160,180,220,240,260,280,320,340,360,380,420,440,460,480,520,540,560,580,620,640,660,680,720,740,760,780,820,840,860,880,920,940,960,980], "labels": false, "ticks": false, "domain": false, "grid": true, "gridColor": "#eeeeee", "title": null, "minExtent": 0, "maxExtent": 0}},
        "y": {"field": "m", "type": "quantitative", "scale": {"domain": [0, 0.7655], "nice": false, "zero": false}, "axis": {"orient": "right", "values": [0.02,0.04,0.06,0.08,0.12,0.14,0.16,0.18,0.22,0.24,0.26,0.28,0.32,0.34,0.36,0.38,0.42,0.44,0.46,0.48,0.52,0.54,0.56,0.58,0.62,0.64,0.66,0.68,0.72,0.74,0.76], "labels": false, "ticks": false, "domain": false, "grid": true, "gridColor": "#eeeeee", "title": null, "minExtent": 0, "maxExtent": 0}}
       }},
      {"mark": {"type": "bar", "width": 4.3, "color": "#1570b8", "stroke": "#1d3a58", "strokeWidth": 0.5, "clip": true},
       "encoding": {
        "x": {"field": "f", "type": "quantitative", "scale": {"domain": [-48.7, 998], "nice": false, "zero": false}, "axis": {"orient": "bottom", "values": [0,100,200,300,400,500,600,700,800,900], "grid": true, "gridColor": "#d4d4d4", "title": null, "labelFontSize": 18, "labelPadding": 5.2, "labelAlign": "center", "labelFlush": false, "labelExpr": "datum.value + ''"}},
        "y": {"field": "m", "type": "quantitative", "scale": {"domain": [0, 0.7655], "nice": false, "zero": false}, "axis": {"orient": "left", "values": [0,0.1,0.2,0.3,0.4,0.5,0.6,0.7], "grid": true, "gridColor": "#d4d4d4", "title": null, "labelFontSize": 18, "labelPadding": 3.5, "minExtent": 31.3, "maxExtent": 31.3, "labelExpr": "datum.value + ''"}}
       }},
      {"data": {"values": [{}]}, "mark": {"type": "text", "font": "Liberation Serif", "fontSize": 18.5, "fontWeight": "bold", "color": "#7f0f12", "align": "center", "baseline": "middle"},
       "encoding": {"x": {"datum": 698.6, "type": "quantitative", "axis": null}, "y": {"datum": 0.7, "type": "quantitative", "axis": null}, "text": {"value": "Fundamental (50Hz) =6.026"}}},
      {"data": {"values": [{}]}, "mark": {"type": "text", "font": "Liberation Serif", "fontSize": 18.5, "fontWeight": "bold", "color": "#7f0f12", "align": "center", "baseline": "middle"},
       "encoding": {"x": {"datum": 698.6, "type": "quantitative", "axis": null}, "y": {"datum": 0.646, "type": "quantitative", "axis": null}, "text": {"value": "THD=4.92%"}}}
     ]
    },
    {
     "width": 476.5, "height": 65.2,
     "view": {"stroke": null},
     "data": {"values": [{}]},
     "layer": [
      {"mark": {"type": "rule", "color": "#7f0f12", "strokeDash": [2, 2], "strokeWidth": 1.5},
       "encoding": {"x": {"datum": 81, "type": "quantitative", "scale": {"domain": [79.5, 556], "nice": false, "zero": false}, "axis": null}, "x2": {"datum": 537.4}, "y": {"datum": 3.8, "type": "quantitative", "scale": {"domain": [0, 65.2], "reverse": true, "nice": false, "zero": false}, "axis": null}}},
      {"mark": {"type": "point", "shape": "triangle-left", "filled": true, "color": "#7f0f12", "opacity": 1, "size": 40},
       "encoding": {"x": {"datum": 80.9, "type": "quantitative", "scale": {"domain": [79.5, 556], "nice": false, "zero": false}, "axis": null}, "y": {"datum": 3.8, "type": "quantitative", "scale": {"domain": [0, 65.2], "reverse": true, "nice": false, "zero": false}, "axis": null}}},
      {"mark": {"type": "point", "shape": "triangle-right", "filled": true, "color": "#7f0f12", "opacity": 1, "size": 40},
       "encoding": {"x": {"datum": 537.4, "type": "quantitative", "scale": {"domain": [79.5, 556], "nice": false, "zero": false}, "axis": null}, "y": {"datum": 3.8, "type": "quantitative", "scale": {"domain": [0, 65.2], "reverse": true, "nice": false, "zero": false}, "axis": null}}},
      {"mark": {"type": "text", "font": "Liberation Serif", "fontSize": 18.5, "fontWeight": "bold", "color": "#7f0f12", "align": "center", "baseline": "middle"},
       "encoding": {"x": {"datum": 292.4, "type": "quantitative", "scale": {"domain": [79.5, 556], "nice": false, "zero": false}, "axis": null}, "y": {"datum": 18.5, "type": "quantitative", "scale": {"domain": [0, 65.2], "reverse": true, "nice": false, "zero": false}, "axis": null}, "text": {"value": "Frequency(Hz)"}}},
      {"mark": {"type": "text", "font": "Liberation Serif", "fontSize": 18, "color": "#111111", "align": "center", "baseline": "middle"},
       "encoding": {"x": {"datum": 276.7, "type": "quantitative", "scale": {"domain": [79.5, 556], "nice": false, "zero": false}, "axis": null}, "y": {"datum": 42.8, "type": "quantitative", "scale": {"domain": [0, 65.2], "reverse": true, "nice": false, "zero": false}, "axis": null}, "text": {"value": "(b)"}}}
     ]
    }
   ]
  }
 ]
},
{
 "spacing": 0,
 "hconcat": [
  {
   "width": 47, "height": 440,
   "view": {"stroke": null},
   "data": {"values": [{}]},
   "layer": [
    {"mark": {"type": "text", "angle": 270, "font": "Liberation Serif", "fontSize": 17.5, "fontWeight": "bold", "color": "#7f0f12", "align": "center", "baseline": "middle"},
     "encoding": {"x": {"datum": 24, "type": "quantitative", "scale": {"domain": [0, 47], "nice": false, "zero": false}, "axis": null}, "y": {"datum": 1070.5, "type": "quantitative", "scale": {"domain": [877.4, 1317.4], "reverse": true, "nice": false, "zero": false}, "axis": null}, "text": {"value": "Voltage (V) and Current (A)"}}},
    {"mark": {"type": "rule", "color": "#7f0f12", "strokeDash": [2, 2], "strokeWidth": 1.5},
     "encoding": {"x": {"datum": 42.4, "type": "quantitative", "scale": {"domain": [0, 47], "nice": false, "zero": false}, "axis": null}, "y": {"datum": 905, "type": "quantitative", "scale": {"domain": [877.4, 1317.4], "reverse": true, "nice": false, "zero": false}, "axis": null}, "y2": {"datum": 1242}}},
    {"mark": {"type": "point", "shape": "triangle-up", "filled": true, "color": "#7f0f12", "opacity": 1, "size": 40},
     "encoding": {"x": {"datum": 42.4, "type": "quantitative", "scale": {"domain": [0, 47], "nice": false, "zero": false}, "axis": null}, "y": {"datum": 905.5, "type": "quantitative", "scale": {"domain": [877.4, 1317.4], "reverse": true, "nice": false, "zero": false}, "axis": null}}},
    {"mark": {"type": "point", "shape": "triangle-down", "filled": true, "color": "#7f0f12", "opacity": 1, "size": 40},
     "encoding": {"x": {"datum": 42.4, "type": "quantitative", "scale": {"domain": [0, 47], "nice": false, "zero": false}, "axis": null}, "y": {"datum": 1241.8, "type": "quantitative", "scale": {"domain": [877.4, 1317.4], "reverse": true, "nice": false, "zero": false}, "axis": null}}}
   ]
  },
  {
   "spacing": 0,
   "vconcat": [
    {
     "width": 450.5, "height": 68.4,
     "title": {"text": "Source Current", "offset": 5.3},
     "encoding": {
      "x": {"field": "t", "type": "quantitative", "scale": {"domain": [1.384, 1.9883], "nice": false, "zero": false}, "axis": {"values": [1.41,1.44,1.47,1.5,1.53,1.56,1.59,1.62,1.65,1.68,1.71,1.74,1.77,1.8,1.83,1.86,1.89,1.92,1.95,1.98], "labels": false, "grid": true, "title": null, "minExtent": 0, "maxExtent": 0}},
      "y": {"field": "i", "type": "quantitative", "scale": {"domain": [-55, 79], "nice": false, "zero": false}, "axis": {"values": [-50, 0, 50], "grid": true, "title": null, "labelPadding": 4, "minExtent": 37.7, "maxExtent": 37.7, "labelExpr": "datum.value + ''"}}
     },
     "layer": [
      {"data": {"name": "cS"}, "mark": {"type": "rule", "color": "#c58cf8", "strokeWidth": 1, "clip": true}, "encoding": {"y2": {"field": "i2"}}},
      {"data": {"name": "c"}, "mark": {"type": "line", "color": "#b366f5", "strokeWidth": 1.2, "interpolate": "monotone", "clip": true}}
     ]
    },
    {
     "width": 450.5, "height": 69,
     "title": {"text": "Load Current", "offset": 1.4},
     "data": {"name": "cL"},
     "mark": {"type": "line", "color": "#fa7b66", "strokeWidth": 1.1, "clip": true},
     "encoding": {
      "x": {"field": "t", "type": "quantitative", "scale": {"domain": [1.384, 1.9883], "nice": false, "zero": false}, "axis": {"values": [1.41,1.44,1.47,1.5,1.53,1.56,1.59,1.62,1.65,1.68,1.71,1.74,1.77,1.8,1.83,1.86,1.89,1.92,1.95,1.98], "labels": false, "grid": true, "title": null, "minExtent": 0, "maxExtent": 0}},
      "y": {"field": "l", "type": "quantitative", "scale": {"domain": [-29.7, 27.8], "nice": false, "zero": false}, "axis": {"values": [-20, 0, 20], "grid": true, "title": null, "labelPadding": 4, "minExtent": 37.7, "maxExtent": 37.7, "labelExpr": "datum.value + ''"}}
     }
    },
    {
     "width": 450.5, "height": 68.3,
     "title": {"text": "Inverter Current", "offset": -4.6},
     "encoding": {
      "x": {"field": "t", "type": "quantitative", "scale": {"domain": [1.384, 1.9883], "nice": false, "zero": false}, "axis": {"values": [1.41,1.44,1.47,1.5,1.53,1.56,1.59,1.62,1.65,1.68,1.71,1.74,1.77,1.8,1.83,1.86,1.89,1.92,1.95,1.98], "labels": false, "grid": true, "title": null, "minExtent": 0, "maxExtent": 0}},
      "y": {"field": "n", "type": "quantitative", "scale": {"domain": [-50, 32], "nice": false, "zero": false}, "axis": {"values": [-30, 0, 30], "grid": true, "title": null, "labelPadding": 4, "minExtent": 37.7, "maxExtent": 37.7, "labelExpr": "datum.value + ''"}}
     },
     "layer": [
      {"data": {"name": "cIS"}, "mark": {"type": "rule", "color": "#f061b1", "strokeWidth": 1, "clip": true}, "encoding": {"y2": {"field": "n2"}}},
      {"data": {"name": "cI"}, "mark": {"type": "line", "color": "#ee3b9f", "strokeWidth": 1.1, "clip": true}}
     ]
    },
    {
     "width": 450.5, "height": 69.3,
     "title": {"text": "Source Voltage", "offset": -3.1},
     "data": {"name": "c"},
     "mark": {"type": "line", "color": "#fb8a70", "strokeWidth": 1, "interpolate": "monotone", "clip": true},
     "encoding": {
      "x": {"field": "t", "type": "quantitative", "scale": {"domain": [1.384, 1.9883], "nice": false, "zero": false}, "axis": {"values": [1.41,1.44,1.47,1.5,1.53,1.56,1.59,1.62,1.65,1.68,1.71,1.74,1.77,1.8,1.83,1.86,1.89,1.92,1.95,1.98], "grid": true, "title": null, "labelPadding": 3, "labelAlign": "center", "labelFlush": false, "labelExpr": "(round(datum.value*100) - 141) % 9 == 0 ? format(datum.value, '.2f') : ''"}},
      "y": {"field": "v", "type": "quantitative", "scale": {"domain": [-343, 330], "nice": false, "zero": false}, "axis": {"values": [-300, 0, 300], "grid": true, "title": null, "labelPadding": 4, "minExtent": 37.7, "maxExtent": 37.7, "labelExpr": "datum.value + ''"}}
     }
    },
    {
     "width": 470.1, "height": 56,
     "view": {"stroke": null},
     "data": {"values": [{}]},
     "layer": [
      {"mark": {"type": "rule", "color": "#7f0f12", "strokeDash": [2, 2], "strokeWidth": 1.5},
       "encoding": {"x": {"datum": 88, "type": "quantitative", "scale": {"domain": [85.9, 556], "nice": false, "zero": false}, "axis": null}, "x2": {"datum": 537.4}, "y": {"datum": 5.3, "type": "quantitative", "scale": {"domain": [0, 56], "reverse": true, "nice": false, "zero": false}, "axis": null}}},
      {"mark": {"type": "point", "shape": "triangle-left", "filled": true, "color": "#7f0f12", "opacity": 1, "size": 40},
       "encoding": {"x": {"datum": 88.2, "type": "quantitative", "scale": {"domain": [85.9, 556], "nice": false, "zero": false}, "axis": null}, "y": {"datum": 5.3, "type": "quantitative", "scale": {"domain": [0, 56], "reverse": true, "nice": false, "zero": false}, "axis": null}}},
      {"mark": {"type": "point", "shape": "triangle-right", "filled": true, "color": "#7f0f12", "opacity": 1, "size": 40},
       "encoding": {"x": {"datum": 537.4, "type": "quantitative", "scale": {"domain": [85.9, 556], "nice": false, "zero": false}, "axis": null}, "y": {"datum": 5.3, "type": "quantitative", "scale": {"domain": [0, 56], "reverse": true, "nice": false, "zero": false}, "axis": null}}},
      {"mark": {"type": "text", "font": "Liberation Serif", "fontSize": 17.5, "fontWeight": "bold", "color": "#7f0f12", "align": "center", "baseline": "middle"},
       "encoding": {"x": {"datum": 311, "type": "quantitative", "scale": {"domain": [85.9, 556], "nice": false, "zero": false}, "axis": null}, "y": {"datum": 22.7, "type": "quantitative", "scale": {"domain": [0, 56], "reverse": true, "nice": false, "zero": false}, "axis": null}, "text": {"value": "Time (s)"}}},
      {"mark": {"type": "text", "font": "Liberation Serif", "fontSize": 18, "color": "#111111", "align": "center", "baseline": "middle"},
       "encoding": {"x": {"datum": 276.7, "type": "quantitative", "scale": {"domain": [85.9, 556], "nice": false, "zero": false}, "axis": null}, "y": {"datum": 46, "type": "quantitative", "scale": {"domain": [0, 56], "reverse": true, "nice": false, "zero": false}, "axis": null}, "text": {"value": "(c)"}}}
     ]
    }
   ]
  }
 ]
}
]
}
